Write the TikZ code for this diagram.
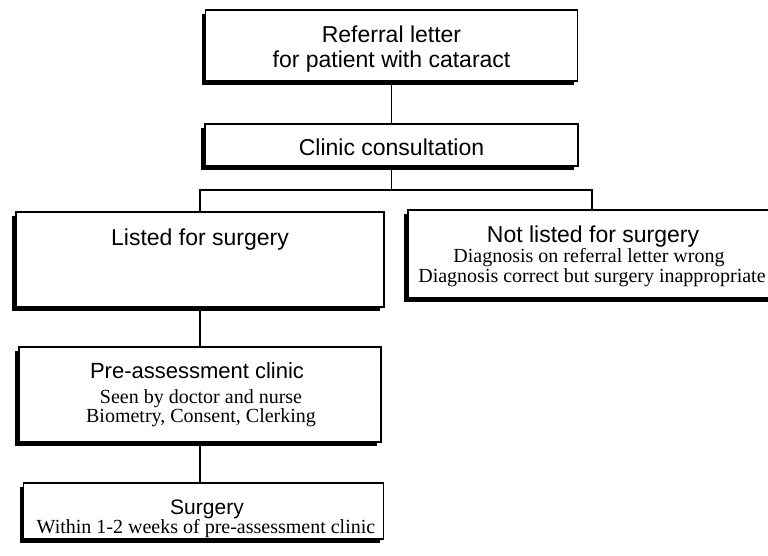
\documentclass[tikz,border=0pt]{standalone}
\usepackage{fontspec}
\setmainfont{Liberation Serif}
\newfontfamily\arialf{Liberation Sans}
\usetikzlibrary{shadows}
\begin{document}
\begin{tikzpicture}[x=1pt,y=-1pt,
  box/.style={draw=black, line width=1.3pt, fill=white, inner sep=0pt,
    drop shadow={shadow xshift=-4pt, shadow yshift=-4pt, opacity=1, fill=black}},
  ttl/.style={font=\arialf\fontsize{23}{27}\selectfont, anchor=base, inner sep=0pt},
  sub/.style={font=\fontsize{20}{24}\selectfont, anchor=base, inner sep=0pt},
  link/.style={draw=black, line width=1.2pt}]
\useasboundingbox (0,0) rectangle (768,555);
% boxes
\node[box, minimum width=372pt, minimum height=71pt] (ref) at (391.5,45.5) {};
\node[box, minimum width=373pt, minimum height=42pt] (clin) at (391.5,145) {};
\node[box, minimum width=368pt, minimum height=95pt] (listed) at (200,259.5) {};
\node[box, minimum width=368pt, minimum height=88pt] (notl) at (592,254) {};
\node[box, minimum width=362pt, minimum height=95pt] (pre) at (200,394.5) {};
\node[box, minimum width=360pt, minimum height=56pt] (surg) at (203.5,511) {};
% texts
\node[ttl] (refA) at (391.5,42) {Referral letter};
\node[ttl] (refB) at (391.5,67) {for patient with cataract};
\node[ttl] (clinA) at (391.5,155) {Clinic consultation};
\node[ttl] (listA) at (200,245) {Listed for surgery};
\node[ttl] (notA) at (593,242) {Not listed for surgery};
\node[sub] (notB) at (589,262) {Diagnosis on referral letter wrong};
\node[sub] (notC) at (592,282) {Diagnosis correct but surgery inappropriate};
\node[ttl, font=\arialf\fontsize{22}{26}\selectfont] (preA) at (197,378) {Pre-assessment clinic};
\node[sub] (preB) at (201,403) {Seen by doctor and nurse};
\node[sub] (preC) at (201,422) {Biometry, Consent, Clerking};
\node[ttl, font=\arialf\fontsize{21}{25}\selectfont] (surgA) at (207,514) {Surgery};
\node[sub] (surgB) at (206,533) {Within 1-2 weeks of pre-assessment clinic};
% connectors
\coordinate (split) at (391.5,190);
\draw[link] (ref.south) -- (clin.north);
\draw[link] (clin.south) -- (split);
\draw[link] (listed.north) |- (split) -| (notl.north);
\draw[link] (listed.south) -- (pre.north);
\draw[link] (pre.south) -- (pre.south |- surg.north);
\end{tikzpicture}
\end{document}
